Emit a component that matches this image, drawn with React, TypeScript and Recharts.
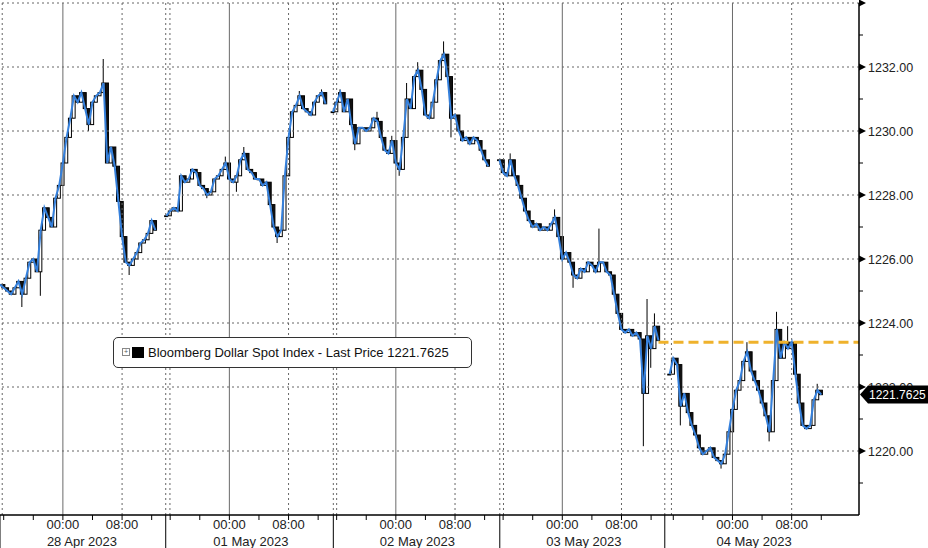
import React from "react";
import { Bar, ComposedChart, Line, ReferenceLine, XAxis, YAxis } from "recharts";

const FONT = "'Liberation Sans', Arial, sans-serif";

// x is in "chart hours" (session time, gaps between sessions removed)
const sessionStart = [0, 22.5, 45, 67.5, 90.5];

// half-hourly closes, one list per session
const closeA = [
  1225.2, 1225.1, 1225.0, 1224.9, 1225.1, 1225.3, 1224.9, 1225.4, 1225.9, 1226.0,
  1225.6, 1226.9, 1227.6, 1227.3, 1227.0, 1227.9, 1228.3, 1229.0, 1229.8, 1230.4,
  1231.1, 1230.9, 1231.2, 1230.7, 1230.2, 1230.9, 1231.1, 1231.2, 1231.5, 1229.0,
  1229.5, 1228.9, 1227.8, 1226.7, 1225.9, 1225.8, 1226.0, 1226.2, 1226.5, 1226.6,
  1226.8, 1227.2, 1226.9,
];
const closeB = [
  1227.35, 1227.5, 1227.6, 1227.5, 1228.6, 1228.4, 1228.5, 1228.8, 1228.7, 1228.3,
  1228.2, 1228.0, 1228.1, 1228.5, 1228.6, 1228.8, 1229.0, 1228.5, 1228.4, 1228.6,
  1229.1, 1229.3, 1228.8, 1228.7, 1228.5, 1228.5, 1228.3, 1228.4, 1227.7, 1227.0,
  1226.7, 1226.9, 1228.6, 1229.8, 1230.6, 1230.8, 1231.1, 1230.7, 1230.6, 1230.5,
  1230.9, 1231.1, 1231.2, 1230.85,
];
const closeC = [
  1230.6, 1230.9, 1231.2, 1230.6, 1231.0, 1230.2, 1229.6, 1230.1, 1230.1, 1230.0,
  1230.1, 1230.4, 1230.3, 1229.8, 1229.4, 1229.3, 1229.7, 1229.0, 1228.8, 1229.8,
  1231.0, 1230.7, 1231.7, 1231.9, 1231.3, 1230.5, 1230.4, 1230.9, 1231.6, 1232.2,
  1232.4, 1231.7, 1230.4, 1230.5, 1230.0, 1229.7, 1229.8, 1229.6, 1229.8, 1229.7,
  1229.4, 1229.1, 1228.9,
];
const closeD = [
  1229.1, 1228.7, 1228.6, 1229.1, 1228.6, 1228.3, 1227.9, 1227.5, 1227.2, 1227.0,
  1227.1, 1226.9, 1227.0, 1226.9, 1227.1, 1227.3, 1226.7, 1226.0, 1226.2, 1225.9,
  1225.5, 1225.4, 1225.7, 1225.6, 1225.9, 1225.8, 1225.6, 1225.9, 1225.9, 1225.6,
  1225.5, 1224.9, 1224.3, 1223.8, 1223.7, 1223.8, 1223.6, 1223.7, 1223.5, 1221.8,
  1223.6, 1223.2, 1223.9, 1223.45,
];
const closeE = [
  1222.4, 1222.9, 1222.7, 1221.4, 1221.8, 1221.2, 1220.8, 1220.5, 1220.1, 1219.9,
  1220.0, 1220.1, 1219.8, 1219.7, 1219.6, 1219.9, 1220.6, 1221.3, 1221.9, 1222.2,
  1222.8, 1223.1, 1222.5, 1222.2, 1221.9, 1221.5, 1221.1, 1220.6, 1222.2, 1223.8,
  1222.9, 1223.4, 1223.2, 1223.4, 1222.4, 1221.5, 1220.8, 1220.7, 1220.8, 1221.6,
  1221.9, 1221.76,
];

// [time, high, low] for the longer wicks
const wicks: [number, number | null, number | null][] = [
  [3, null, 1224.5], [5.5, null, 1224.85], [12, null, 1230.0], [14, 1232.25, null],
  [17.5, null, 1225.5], [28, null, 1227.9], [30.5, 1229.2, null], [32, null, 1228.1],
  [33, 1229.5, null], [37.5, null, 1226.5], [40.5, 1231.25, null], [43.5, 1231.3, null],
  [46, 1231.3, null], [48, null, 1229.4], [51, 1230.6, null], [53, 1229.85, null],
  [54, null, 1228.6], [55, 1231.5, null], [56.5, 1232.15, null], [60, 1232.8, null],
  [61, null, 1229.8], [69, 1229.3, null], [75, 1227.55, null], [77.5, null, 1225.1],
  [81, 1226.95, null], [87, null, 1220.15], [87.5, 1224.75, null], [88, null, 1222.6],
  [88.5, 1224.3, null], [92, null, 1220.8], [97.5, null, 1219.45], [101, 1223.4, null],
  [104, null, 1220.3], [105, 1224.35, null], [106.5, 1223.9, null], [110.5, 1222.1, null],
];

const dayMidnight = [8.5, 31, 53.5, 76, 99];
const dayLabels = ["28 Apr 2023", "01 May 2023", "02 May 2023", "03 May 2023", "04 May 2023"];
const sessionBreaks = [0, 22.4, 45.05, 67.55, 89.85];
const sessionEdges = [0.3, 22.4, 22.97, 45.05, 45.5, 67.55, 68.05, 89.85, 90.75];
const lastPrice = 1221.7625;
const prevClose = 1223.4;
const yMajor = [1220, 1222, 1224, 1226, 1228, 1230, 1232, 1234];
const yMinor = [1219, 1221, 1223, 1225, 1227, 1229, 1231, 1233];

const segments = [closeA, closeB, closeC, closeD, closeE];
const data: any[] = [];
segments.forEach((closes, s) => {
  closes.forEach((c, i) => {
    const t = sessionStart[s] + i * 0.5;
    const o = i === 0 ? c : closes[i - 1];
    const w = wicks.find((k) => k[0] === t);
    const h = Math.max(o, c, w && w[1] != null ? w[1] : -Infinity);
    const l = Math.min(o, c, w && w[2] != null ? w[2] : Infinity);
    data.push({ t, o, h, l, c, range: [l, h] });
  });
  if (s < segments.length - 1) data.push({ t: sessionStart[s] + closes.length * 0.5, c: null, range: null });
});

const eightAm = dayMidnight.map((d) => d + 8);
const xTicks: number[] = [...sessionBreaks];
dayMidnight.forEach((d) => [-8, -4, 0, 4, 8, 12].forEach((k) => xTicks.push(d + k)));

function Candle(props: any) {
  const { x, y, width, height, payload } = props;
  if (!payload || payload.c == null || !isFinite(y)) return null;
  const top = Math.min(y, y + height);
  const bottom = Math.max(y, y + height);
  const span = payload.h - payload.l;
  const py = (v: number) => (span === 0 ? top : top + ((payload.h - v) / span) * (bottom - top));
  const cx = x + width / 2;
  const up = payload.c >= payload.o;
  const b1 = py(Math.max(payload.o, payload.c));
  const b2 = py(Math.min(payload.o, payload.c));
  return (
    <g>
      <line x1={cx} x2={cx} y1={top} y2={bottom} stroke="#000" strokeWidth={1} />
      <rect x={cx - 1.5} y={b1} width={3} height={Math.max(b2 - b1, 0.8)} fill={up ? "#fff" : "#111"} stroke="#000" strokeWidth={1} />
    </g>
  );
}

function XTick(props: any) {
  const { x, y, payload } = props;
  const v = payload.value;
  const isBreak = sessionBreaks.includes(v);
  const day = dayMidnight.indexOf(v);
  return (
    <g>
      <line x1={x} x2={x} y1={y} y2={isBreak ? y + 34 : y + 5} stroke="#000" strokeWidth={1} />
      {day >= 0 && (
        <>
          <text x={x} y={y + 14} textAnchor="middle" fontSize={13} fontFamily={FONT} fill="#222">00:00</text>
          <text x={x - 16} y={y + 31} textAnchor="start" fontSize={13} fontFamily={FONT} fill="#222">{dayLabels[day]}</text>
        </>
      )}
      {eightAm.includes(v) && (
        <text x={x} y={y + 14} textAnchor="middle" fontSize={13} fontFamily={FONT} fill="#222">08:00</text>
      )}
    </g>
  );
}

function YTick(props: any) {
  const { x, y, payload } = props;
  const v = payload.value;
  if (v === lastPrice) {
    return (
      <g>
        <polygon points={`${x + 1},${y} ${x + 9},${y - 9} ${x + 70},${y - 9} ${x + 70},${y + 9} ${x + 9},${y + 9}`} fill="#000" />
        <text x={x + 10} y={y + 4.5} fontSize={12} fontFamily={FONT} fill="#fff">{lastPrice.toFixed(4)}</text>
      </g>
    );
  }
  if (v % 2 === 0) {
    return (
      <g>
        <polygon points={`${x},${y - 3.5} ${x + 7},${y} ${x},${y + 3.5}`} fill="#000" />
        {v !== 1234 && (
          <text x={x + 9} y={y + 4.5} fontSize={12.5} fontFamily={FONT} fill="#222">{v.toFixed(2)}</text>
        )}
      </g>
    );
  }
  return <line x1={x} x2={x + 4} y1={y} y2={y} stroke="#000" strokeWidth={1} />;
}

export default function App() {
  return (
    <div style={{ position: "absolute", left: 0, top: 0, width: 928, height: 548, background: "#fff" }}>
      <ComposedChart width={928} height={548} data={data} margin={{ top: 3, right: 0, bottom: 0, left: 0 }}>
        <XAxis
          type="number"
          dataKey="t"
          domain={[0, 116.1]}
          allowDataOverflow
          ticks={xTicks}
          interval={0}
          tick={<XTick />}
          tickLine={false}
          tickSize={0}
          tickMargin={0}
          height={33}
          axisLine={{ stroke: "#000", strokeWidth: 1.5 }}
        />
        <YAxis
          orientation="right"
          domain={[1218, 1234]}
          allowDataOverflow
          ticks={[...yMinor, ...yMajor, lastPrice]}
          interval={0}
          tick={<YTick />}
          tickLine={false}
          tickSize={0}
          tickMargin={0}
          width={69}
          axisLine={{ stroke: "#000", strokeWidth: 1.5 }}
        />
        {yMajor.map((v) => (
          <ReferenceLine key={`h${v}`} y={v} stroke="#666" strokeDasharray="2 3" />
        ))}
        {sessionEdges.map((t) => (
          <ReferenceLine key={`e${t}`} x={t} stroke="#666" strokeDasharray="2 3" />
        ))}
        {eightAm.map((t) => (
          <ReferenceLine key={`d${t}`} x={t} stroke="#666" strokeDasharray="2 3" />
        ))}
        {dayMidnight.map((t) => (
          <ReferenceLine key={`m${t}`} x={t} stroke="#6a6a6a" strokeWidth={1} />
        ))}
        <Bar dataKey="range" barSize={3} shape={<Candle />} isAnimationActive={false} />
        <Line
          type="linear"
          dataKey="c"
          stroke="#3580dc"
          strokeWidth={2}
          dot={false}
          activeDot={false}
          connectNulls={false}
          isAnimationActive={false}
        />
        <ReferenceLine
          segment={[{ x: 89, y: prevClose }, { x: 116.1, y: prevClose }]}
          stroke="#efb22c"
          strokeWidth={3}
          strokeDasharray="10 5"
        />
      </ComposedChart>
      <div
        style={{
          position: "absolute",
          left: 113,
          top: 337,
          width: 357,
          height: 29,
          border: "1px solid #333",
          borderRadius: 5,
          background: "#fff",
          display: "flex",
          alignItems: "center",
          fontFamily: FONT,
          fontSize: 13,
          color: "#111",
          boxSizing: "content-box",
        }}
      >
        <span
          style={{
            marginLeft: 8,
            width: 6,
            height: 6,
            border: "1px solid #888",
            fontSize: 7,
            lineHeight: "6px",
            textAlign: "center",
            color: "#555",
            marginTop: -2,
          }}
        >
          +
        </span>
        <span style={{ marginLeft: 2, width: 12, height: 11, background: "#000" }} />
        <span style={{ marginLeft: 4, whiteSpace: "nowrap" }}>Bloomberg Dollar Spot Index - Last Price 1221.7625</span>
      </div>
    </div>
  );
}
